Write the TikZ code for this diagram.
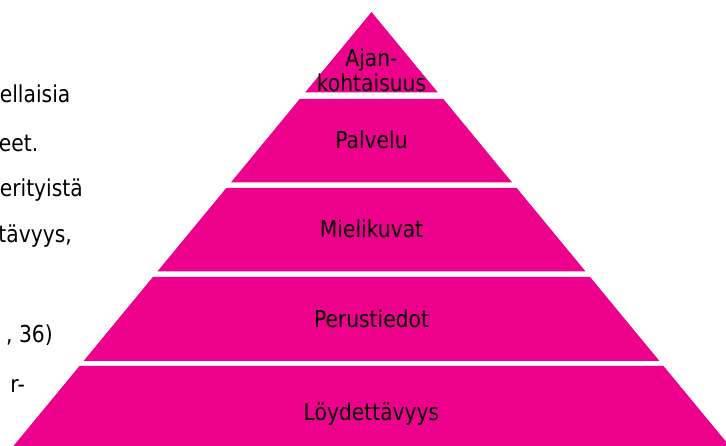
\documentclass[tikz,border=0pt]{standalone}
\usepackage{fontspec}
\newfontfamily\tfont{DejaVu Sans}[FakeStretch=0.87]
\definecolor{pyrpink}{RGB}{236,0,140}
\begin{document}
\begin{tikzpicture}[x=1pt,y=-1pt,
  tier/.style={fill=pyrpink,draw=none},
  lbl/.style={inner sep=0pt,anchor=base,font=\tfont\fontsize{23.3}{25}\selectfont,text=black},
  side/.style={inner sep=0pt,anchor=base east,font=\tfont\fontsize{23.3}{25}\selectfont,text=black}]
\useasboundingbox (0,0) rectangle (726,446);
\clip (0,0) rectangle (726,446);
% tiers
\fill[tier] (371.5,12) -- (437.9,92.5) -- (305.1,92.5) -- cycle;
\fill[tier] (299.7,99) -- (443.3,99) -- (512.1,182.5) -- (230.9,182.5) -- cycle;
\fill[tier] (226.3,188) -- (516.7,188) -- (585.6,271.5) -- (157.4,271.5) -- cycle;
\fill[tier] (152.9,277) -- (590.1,277) -- (659.4,361) -- (83.6,361) -- cycle;
\fill[tier] (79.5,366) -- (663.5,366) -- (734.5,452) -- (8.5,452) -- cycle;
% labels
\node[lbl] (ajan1) at (371.5,66.7) {Ajan-};
\node[lbl] (ajan2) at (371.5,91.7) {kohtaisuus};
\node[lbl] (palvelu) at (371.5,149) {Palvelu};
\node[lbl] (mieli) at (371.5,237.3) {Mielikuvat};
\node[lbl] (perus) at (371.5,328) {Perustiedot};
\node[lbl] (loyd) at (371.5,420.7) {Löydettävyys};
% left text fragments
\node[side] (l1) at (70.5,103) {ellaisia};
\node[side] (l2) at (38.5,152) {eet.};
\node[side] (l3) at (83,197) {erityistä};
\node[side] (l4) at (72,243) {tävyys,};
\node[side] (l5) at (53,343) {, 36)};
\node[side] (l6) at (25,392) {r-};
\end{tikzpicture}
\end{document}
